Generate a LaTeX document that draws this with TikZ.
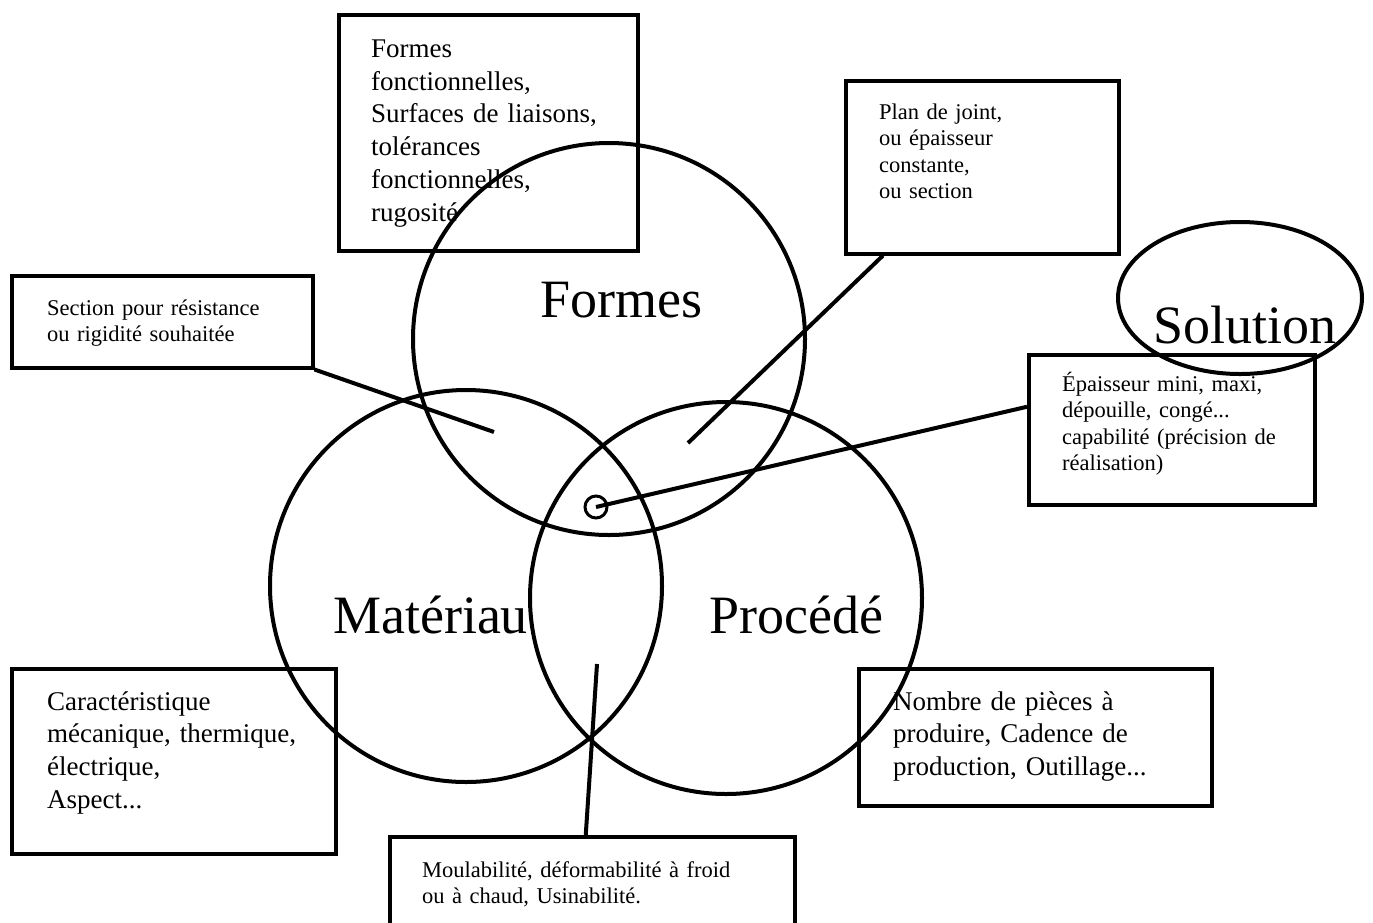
\documentclass[tikz,border=0pt]{standalone}
\usepackage{fontspec}
\setmainfont{Liberation Serif}

\begin{document}
\begin{tikzpicture}[x=1pt,y=-1pt,
		cadre/.style={draw=black, line width=3.5pt, anchor=north west, inner sep=0pt},
		rond/.style={draw=black, line width=4pt, circle, inner sep=0pt, minimum size=392pt},
		trait/.style={black, line width=4pt},
		titre/.style={anchor=base, inner sep=0pt, font=\fontsize{54}{60}\selectfont},
		grand/.style={anchor=base west, inner sep=0pt, align=left, text width=400pt, font=\fontsize{27}{32.7}\selectfont},
		petit/.style={anchor=base west, inner sep=0pt, align=left, text width=400pt, font=\fontsize{22.5}{26.5}\selectfont}]
		\useasboundingbox (0,0) rectangle (1373,922);
		%\fill[white] (0,0) rectangle (1373,922);
		\node[rond] (cForm) at (609,339) {};
		\node[rond] (cMat) at (466,586) {};
		\node[rond] (cProc) at (726,598) {};
		\node[circle, draw=black, line width=3pt, inner sep=0pt, minimum size=22pt] (cInter) at (596,507) {};
		\draw[black, line width=4pt] (1240,298) ellipse (122 and 76);
		
		\node[titre] (lForm) at (621.5,317) {Formes};
		\node[titre] (lMat) at (430.5,633) {Matériau};
		\node[titre] (lProc) at (796.5,633) {Procédé};
		\node[titre] (lSol) at (1245,343) {Solution};
		
		\node[cadre, minimum width=299pt, minimum height=236pt] (bForm) at (337,13) {};
		\node[cadre, minimum width=273pt, minimum height=173pt] (bJoint) at (844,79) {};
		\node[cadre, minimum width=286pt, minimum height=150pt] (bEpai) at (1027,353) {};
		\node[cadre, minimum width=301pt, minimum height=92pt] (bSect) at (10,274) {};
		\node[cadre, minimum width=324pt, minimum height=185pt] (bCarac) at (10,667) {};
		\node[cadre, minimum width=353pt, minimum height=137pt] (bNomb) at (857,667) {};
		\node[cadre, minimum width=405pt, minimum height=110pt] (bMoul) at (388,835) {};
		
		\node[grand] (tForm) at (371,57.5) {Formes\\fonctionnelles,\\Surfaces de liaisons,\\tolérances\\fonctionnelles,\\rugosité};
		\node[petit] (tJoint) at (879,119) {Plan de joint,\\ou épaisseur\\constante,\\ou section};
		\node[petit] (tEpai) at (1062,391) {Épaisseur mini, maxi,\\dépouille, congé...\\capabilité (précision de\\réalisation)};
		\node[petit] (tSect) at (47,315) {Section pour résistance\\ou rigidité souhaitée};
		\node[grand] (tCarac) at (47,710) {Caractéristique\\mécanique, thermique,\\électrique,\\Aspect...};
		\node[grand] (tNomb) at (893,710) {Nombre de pièces à\\produire, Cadence de\\production, Outillage...};
		\node[petit] (tMoul) at (422,877) {Moulabilité, déformabilité à froid\\ou à chaud, Usinabilité.};
		
		\coordinate (pSect) at (494,432);
		\coordinate (pJoint) at (688,443);
		\coordinate (pMoul) at (597,664);
		\draw[trait] (bSect.south east) -- (pSect);
		\draw[trait] ([xshift=39pt]bJoint.south west) -- (pJoint);
		\draw[trait] ([yshift=23pt]bEpai.west) -- (cInter.center);
		\draw[trait] ([xshift=-6.5pt]bMoul.north) -- (pMoul);
	\end{tikzpicture}
\end{document}
